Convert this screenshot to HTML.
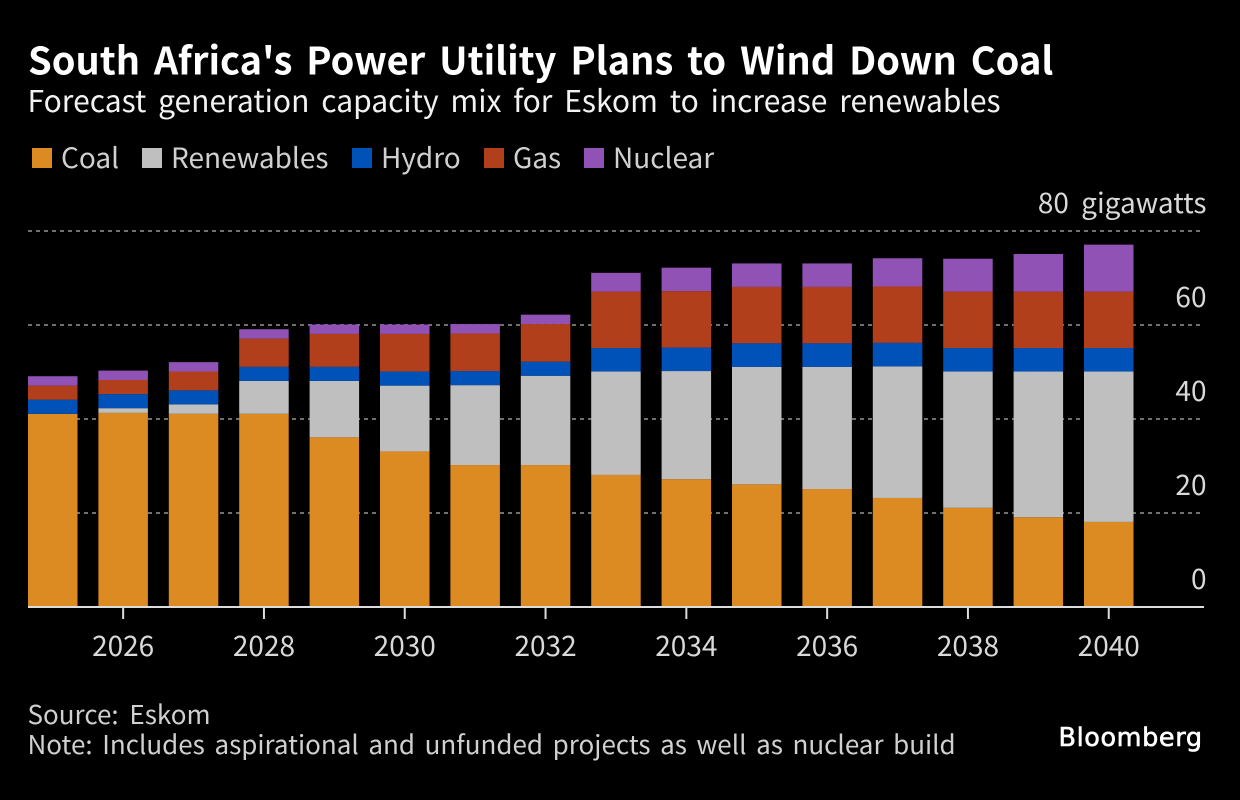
<!DOCTYPE html>
<html lang="en">
<head>
<meta charset="utf-8">
<title>South Africa's Power Utility Plans to Wind Down Coal</title>
<style>
html,body{margin:0;padding:0;background:#000;width:1240px;height:800px;overflow:hidden}
svg{display:block}
</style>
</head>
<body>
<svg id="chart" width="1240" height="800" viewBox="0 0 1240 800" xmlns="http://www.w3.org/2000/svg" font-family="'Noto Sans CJK KR',sans-serif">
<rect x="0" y="0" width="1240" height="800" fill="#000"/>
<text x="28" y="74.5" font-size="38" font-weight="700" fill="#fff" word-spacing="5.25">South Africa's Power Utility Plans to Wind Down Coal</text>
<text x="27.5" y="112" font-size="30" fill="#f2f2f2" word-spacing="5.1">Forecast generation capacity mix for Eskom to increase renewables</text>
<g id="legend"></g>
<g id="grid"></g>
<g id="bars"></g>
<g id="axes"></g>
<text x="27.5" y="724" font-size="26" fill="#d0d0d0" word-spacing="5">Source: Eskom</text>
<text x="27.5" y="754" font-size="26" fill="#d0d0d0" word-spacing="3.8">Note: Includes aspirational and unfunded projects as well as nuclear build</text>
<text x="1058.5" y="746" font-size="25.5" fill="#fff" stroke="#fff" stroke-width="0.6" letter-spacing="0.6" font-family="'DejaVu Sans',sans-serif">Bloomberg</text>
</svg>
<script>
const years = [2025,2026,2027,2028,2029,2030,2031,2032,2033,2034,2035,2036,2037,2038,2039,2040];
const coal = [41.1,41.3,41.1,41.1,36.1,33.1,30.2,30.2,28.1,27.2,26.1,25.1,23.2,21.1,19.1,18.1];
const renewables = [0,1,2,7,12,14,17,19,22,23,25,26,28,29,31,32];
const hydro = [3,3,3,3,3,3,3,3,5,5,5,5,5,5,5,5];
const gas = [3,3,4,6,7,8,8,8,12,12,12,12,12,12,12,12];
const nuclear = [2,2,2,2,2,2,2,2,4,5,5,5,6,7,8,10];
const seriesNames = ["Coal","Renewables","Hydro","Gas","Nuclear"];
const seriesColors = ["#dc8a22","#bfbfbf","#0051b8","#b23f1b","#9052b5"];
const yTicks = [0,20,40,60,80];
const xTickYears = [2026,2028,2030,2032,2034,2036,2038,2040];

const NS = "http://www.w3.org/2000/svg";
const allSeries = [coal, renewables, hydro, gas, nuclear];
const yOf = function (v) { return 607 - v * 4.7; };
const xOf = function (yr) { return 52.75 + (yr - 2025) * 70.4; };
const barWidth = 49.5;

function make(tag, attrs, parent, text) {
  const el = document.createElementNS(NS, tag);
  for (const k in attrs) el.setAttribute(k, attrs[k]);
  if (text !== undefined) el.textContent = text;
  parent.appendChild(el);
  return el;
}

const gridG = document.getElementById("grid");
yTicks.forEach(function (t) {
  if (t === 0) return;
  const line = make("line", {x1: 28, x2: 1203, y1: yOf(t), y2: yOf(t), stroke: "#707070", "stroke-width": 2, "stroke-dasharray": "4 4"}, gridG);
  
  
});

const barsG = document.getElementById("bars");
years.forEach(function (yr, i) {
  let cum = 0;
  allSeries.forEach(function (s, j) {
    const v = s[i];
    if (v > 0) {
      const rect = make("rect", {x: xOf(yr) - barWidth / 2, y: yOf(cum + v), width: barWidth, height: v * 4.7, fill: seriesColors[j]}, barsG);
      
      
    }
    cum += v;
  });
});

const axesG = document.getElementById("axes");
const baseline = make("line", {x1: 28, x2: 1204, y1: 607, y2: 607, stroke: "#dcdcdc", "stroke-width": 2}, axesG);



xTickYears.forEach(function (yr) {
  const tick = make("line", {x1: xOf(yr), x2: xOf(yr), y1: 607, y2: 619, stroke: "#dcdcdc", "stroke-width": 2}, axesG);
  
  
  const label = make("text", {x: xOf(yr), y: 656, "font-size": 28, fill: "#d9d9d9", "text-anchor": "middle"}, axesG, String(yr));
  
  
});

yTicks.forEach(function (t) {
  const label = make("text", {x: 1206.5, y: yOf(t) - 18, "font-size": 28, fill: "#d9d9d9", "text-anchor": "end", "word-spacing": 6}, axesG, t === 80 ? "80 gigawatts" : String(t));
  
  
});

const legendG = document.getElementById("legend");
const legendSwatchX = [32, 142, 352, 484, 584];
seriesNames.forEach(function (name, i) {
  const sw = make("rect", {x: legendSwatchX[i], y: 148, width: 20, height: 20, fill: seriesColors[i]}, legendG);
  
  
  const lb = make("text", {x: legendSwatchX[i] + 29, y: 168, "font-size": 28, fill: "#d0d0d0"}, legendG, name);
  
  
});
</script>
</body>
</html>
